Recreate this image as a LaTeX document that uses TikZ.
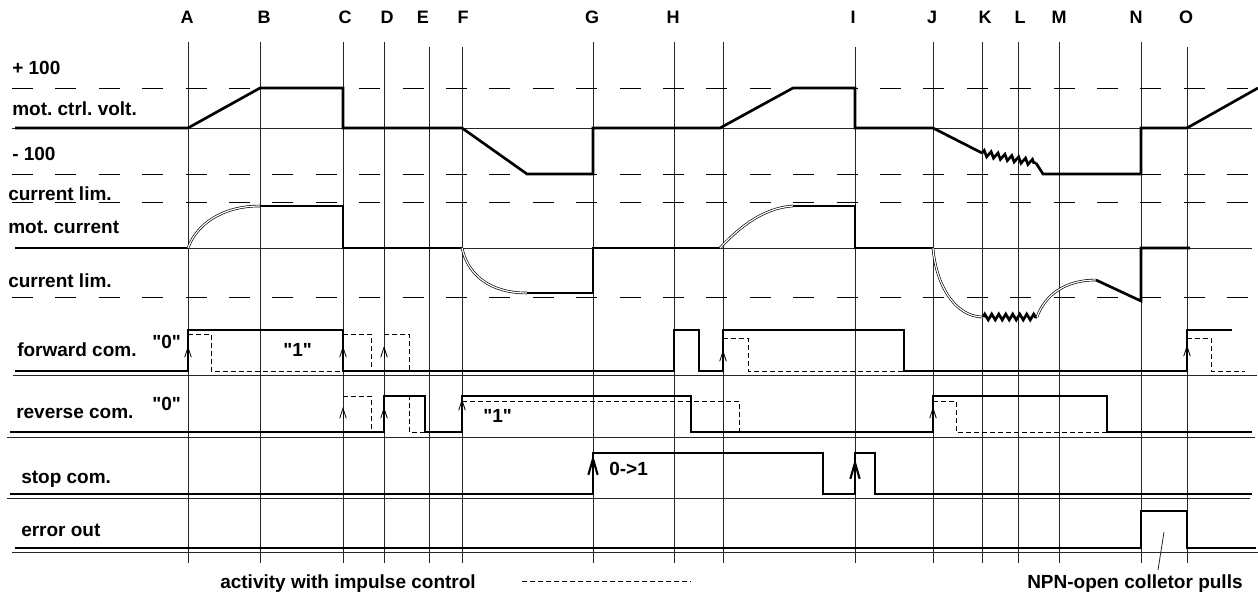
\documentclass[tikz,border=0pt]{standalone}
\usepackage{fontspec}
\setmainfont{Liberation Sans}
\usetikzlibrary{arrows.meta, decorations.pathmorphing}
\frenchspacing

\begin{document}
\begin{tikzpicture}[
    x=0.75pt, y=-0.75pt,
    sig/.style={line width=2pt, line join=miter},
    grid/.style={line width=0.6pt, black!85},
    limline/.style={line width=0.6pt, dash pattern=on 15.75pt off 16.8pt},
    imp/.style={line width=0.6pt, dash pattern=on 3.5pt off 2.5pt},
    dblc/.style={line width=0.5pt, double=white, double distance=0.9pt},
    zz/.style={decorate, decoration={zigzag, segment length=5.25pt, amplitude=2.2pt}},
    lbl/.style={anchor=base west, inner sep=0pt, font=\fontsize{14.25}{16}\selectfont\bfseries},
    letter/.style={anchor=base, inner sep=0pt, font=\fontsize{13.5}{16}\selectfont\bfseries},
    imparrow/.style={line width=0.6pt, -{Straight Barb[length=7.5pt, width=5pt]}},
    stoparrow/.style={line width=1.6pt, -{Straight Barb[length=12pt, width=7pt]}}
    ]
    \useasboundingbox (0,0) rectangle (1258,594);

    % time marks
    \foreach \x/\lx/\t/\n in {188/187/42/A, 260/264/42/B, 343/345/42/C, 384/387/42/D, 429/423/47/E,
        462/463/47/F, 593/592/42/G, 674/673/42/H, 855/853/47/I, 933/932/42/J, 982/985/42/K,
        1018/1020/42/L, 1059/1059/42/M, 1141/1136/42/N, 1187/1186/47/O} {
        \draw[grid] (\x,\t) -- (\x,563);
        \node[letter] (t\n) at (\lx,23) {\n};
    }
    \draw[grid] (723,42) -- (723,563);

    \draw[limline] (12,88) -- (1252,88);
    \draw[limline] (12,174) -- (1252,174);
    \draw[limline] (12,202) -- (1252,202);
    \draw[limline] (12,297) -- (1252,297);
    \draw[grid] (12,128) -- (1252,128);
    \draw[grid] (15,248) -- (1252,248);
    \draw[grid] (13,375) -- (1257,375);
    \draw[grid] (7,437) -- (1255,437);
    \draw[grid] (7,498) -- (1250,498);
    \draw[grid] (12,552) -- (1258,552);

    % labels
    \node[lbl] (plus) at (12,74) {+ 100};
    \node[lbl] (volt) at (12,115) {mot. ctrl. volt.};
    \node[lbl] (minus) at (12,160) {- 100};
    \node[lbl] (limup) at (8,200) {current lim.};
    \node[lbl] (curr) at (8,233) {mot. current};
    \node[lbl] (limdn) at (8,287) {current lim.};
    \node[lbl] (fwd) at (17,356) {forward com.};
    \node[lbl] (fwdzero) at (152,348) {\textquotedbl0\textquotedbl};
    \node[lbl] (fwdone) at (283,356) {\textquotedbl1\textquotedbl};
    \node[lbl] (rev) at (16,418) {reverse com.};
    \node[lbl] (revzero) at (152,410) {\textquotedbl0\textquotedbl};
    \node[lbl] (revone) at (483,422) {\textquotedbl1\textquotedbl};
    \node[lbl] (stop) at (21,483) {stop com.};
    \node[lbl] (stopedge) at (609,475) {0->1};
    \node[lbl] (err) at (21,536) {error out};
    \node[lbl] (activity) at (220,588) {activity with impulse control};
    \node[lbl] (npn) at (1027,588) {NPN-open colletor pulls};

    % mot. ctrl. volt.
    \draw[sig] (15,128) -- (188,128) -- (260,88) -- (343,88) -- (343,128) -- (462,128) -- (527,174)
        -- (593,174) -- (593,128) -- (720,128) -- (793,88) -- (855,88) -- (855,128) -- (933,128) -- (982,153);
    \draw[sig, zz] (982,153) -- (1036,163);
    \draw[sig] (1036,163) -- (1043,174) -- (1141,174) -- (1141,128) -- (1187,128) -- (1258,88);

    % mot. current
    \draw[sig] (15,248) -- (188,248);
    \draw[dblc] (188,248) .. controls (196,226) and (220,206) .. (260,206);
    \draw[sig] (260,206) -- (343,206) -- (343,248) -- (462,248);
    \draw[dblc] (462,248) .. controls (468,275) and (490,293) .. (527,293);
    \draw[sig] (527,293) -- (593,293) -- (593,248) -- (720,248);
    \draw[dblc] (720,248) .. controls (735,232) and (760,208) .. (793,206);
    \draw[sig] (793,206) -- (855,206) -- (855,248) -- (933,248);
    \draw[dblc] (933,248) .. controls (936,285) and (955,317) .. (983,317);
    \draw[sig, zz] (983,317) -- (1037,317);
    \draw[dblc] (1037,317) .. controls (1045,295) and (1065,280) .. (1096,280);
    \draw[sig] (1096,280) -- (1141,301) -- (1141,248) -- (1190,248);

    % forward com.
    \draw[sig] (15,371) -- (188,371) -- (188,330) -- (343,330) -- (343,371) -- (674,371) -- (674,330)
        -- (699,330) -- (699,371) -- (723,371) -- (723,330) -- (904,330) -- (904,371) -- (1187,371)
        -- (1187,330) -- (1232,330);
    \draw[imp] (188,334) -- (211,334) -- (211,371) -- (343,371);
    \draw[imp] (343,334) -- (371,334) -- (371,371);
    \draw[imp] (384,334) -- (409,334) -- (409,371);
    \draw[imp] (723,338) -- (748,338) -- (748,371) -- (904,371);
    \draw[imp] (1187,338) -- (1211,338) -- (1211,371) -- (1245,371);
    \foreach \x/\y in {188/346, 343/346, 384/346, 723/350, 1187/345}
        \draw[imparrow] (\x,\y+12) -- (\x,\y);

    % reverse com.
    \draw[sig] (10,432) -- (384,432) -- (384,396) -- (425,396) -- (425,432) -- (462,432) -- (462,396)
        -- (691,396) -- (691,432) -- (933,432) -- (933,396) -- (1107,396) -- (1107,432) -- (1252,432);
    \draw[imp] (343,396) -- (371,396) -- (371,432);
    \draw[imp] (384,396) -- (409,396) -- (409,432) -- (425,432);
    \draw[imp] (462,401) -- (739,401) -- (739,432);
    \draw[imp] (933,401) -- (956,401) -- (956,432) -- (1107,432);
    \foreach \x/\y in {343/407, 384/407, 462/399, 933/407}
        \draw[imparrow] (\x,\y+12) -- (\x,\y);

    % stop com.
    \draw[sig] (10,494) -- (593,494) -- (593,453) -- (823,453) -- (823,494) -- (855,494) -- (855,453)
        -- (875,453) -- (875,494) -- (1252,494);
    \draw[stoparrow] (593,480) -- (593,455);
    \draw[stoparrow] (855,484) -- (855,459);

    % error out
    \draw[sig] (15,548) -- (1141,548) -- (1141,511) -- (1187,511) -- (1187,548) -- (1256,548);

    \coordinate (pull) at (1164,532);
    \coordinate (pullend) at (1158,570);
    \draw[grid] (pull) -- (pullend);
    \coordinate (legl) at (522,581);
    \coordinate (legr) at (691,581);
    \draw[imp] (legl) -- (legr);

\end{tikzpicture}
\end{document}
